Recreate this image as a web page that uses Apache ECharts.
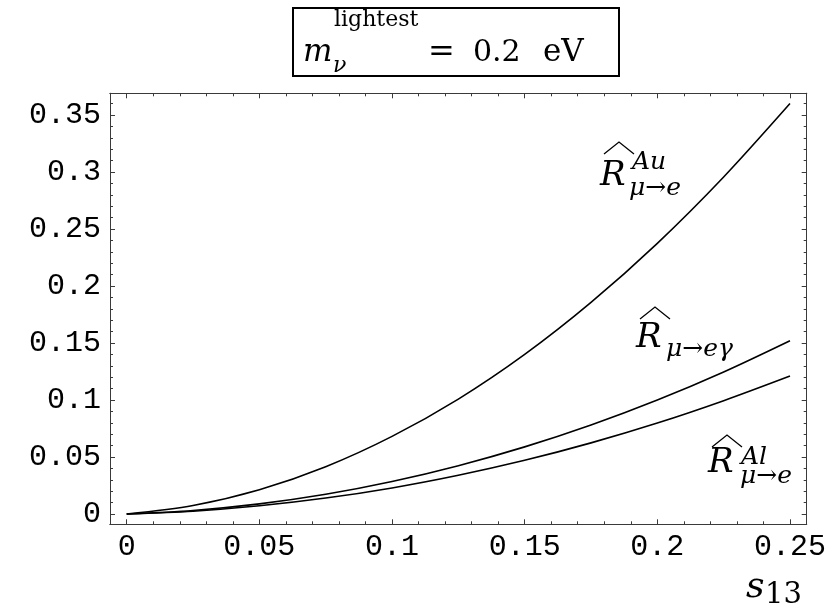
<!DOCTYPE html>
<html>
<head>
<meta charset="utf-8">
<script src="https://cdn.jsdelivr.net/npm/echarts@6/dist/echarts.min.js"></script>
<style>
  html, body { margin: 0; padding: 0; background: #fff; }
  #chart { width: 836px; height: 610px; }
</style>
</head>
<body>
<div id="chart"></div>
<script>
// s13 sample points
const s13 = [0, 0.025, 0.05, 0.075, 0.1, 0.125, 0.15, 0.175, 0.2, 0.225, 0.25];

// Normalised rates
const rAu    = [0, 0.0075, 0.0213, 0.0415, 0.0681, 0.1008, 0.1400, 0.1856, 0.2374, 0.2956, 0.3600];
const rEgam  = [0, 0.0031, 0.0089, 0.0173, 0.0285, 0.0424, 0.0589, 0.0781, 0.1000, 0.1246, 0.1520];
const rAl    = [0, 0.0025, 0.0072, 0.0140, 0.0229, 0.0340, 0.0471, 0.0624, 0.0798, 0.0994, 0.1210];

// Tick values
const xMajor = [0, 0.05, 0.1, 0.15, 0.2, 0.25];
const xMinor = [0.01, 0.02, 0.03, 0.04, 0.06, 0.07, 0.08, 0.09, 0.11, 0.12, 0.13, 0.14,
                0.16, 0.17, 0.18, 0.19, 0.21, 0.22, 0.23, 0.24];
const yMajor = [0, 0.05, 0.1, 0.15, 0.2, 0.25, 0.3, 0.35];
const yMinor = [0.01, 0.02, 0.03, 0.04, 0.06, 0.07, 0.08, 0.09, 0.11, 0.12, 0.13, 0.14,
                0.16, 0.17, 0.18, 0.19, 0.21, 0.22, 0.23, 0.24, 0.26, 0.27, 0.28, 0.29,
                0.31, 0.32, 0.33, 0.34, 0.36];

const X_MIN = -0.0063, X_MAX = 0.2563;
const Y_MIN = -0.0090, Y_MAX = 0.3690;
const FRAME = '#3a3a3a';
const SERIF = '"DejaVu Serif", "Liberation Serif", serif';
const MONO = '"Liberation Mono", "DejaVu Sans Mono", monospace';

function zip(xs, ys) { return xs.map((x, i) => [x, ys[i]]); }

function axis(kind, position, ticks, len, withLabels) {
  return {
    type: 'value', position: position,
    min: kind === 'x' ? X_MIN : Y_MIN,
    max: kind === 'x' ? X_MAX : Y_MAX,
    axisLine: { show: true, onZero: false, lineStyle: { color: FRAME, width: 1 } },
    axisTick: { show: true, inside: true, length: len, customValues: ticks,
                lineStyle: { color: FRAME, width: 1 } },
    axisLabel: withLabels
      ? { show: true, customValues: ticks, margin: kind === 'x' ? 8 : 9,
          fontFamily: MONO, fontSize: 30, color: '#000',
          formatter: v => String(v) }
      : { show: false },
    splitLine: { show: false }
  };
}

// Text placed by its alphabetic baseline
function txt(str, x, base, size, italic) {
  return {
    type: 'text', z: 100,
    style: {
      text: str, x: x, y: base - 0.3 * size,
      font: (italic ? 'italic ' : '') + size + 'px ' + SERIF,
      fill: '#000', align: 'left', verticalAlign: 'middle'
    }
  };
}
function hat(x0, xm, x1, yb, yt) {
  return {
    type: 'polyline', z: 100,
    shape: { points: [[x0, yb], [xm, yt], [x1, yb]] },
    style: { stroke: '#000', lineWidth: 1.3, fill: null }
  };
}

const chart = echarts.init(document.getElementById('chart'), null, { renderer: 'canvas' });

const line = (name, data) => ({
  name: name, type: 'line', data: zip(s13, data), smooth: 0.3,
  showSymbol: false, xAxisIndex: 0, yAxisIndex: 0,
  lineStyle: { color: '#000', width: 1.6 }, animation: false
});

chart.setOption({
  backgroundColor: '#fff',
  animation: false,
  grid: { left: 110, right: 29.3, top: 93.3, bottom: 85.7, containLabel: false },
  xAxis: [
    axis('x', 'bottom', xMajor, 5, true),
    axis('x', 'bottom', xMinor, 3, false),
    axis('x', 'top', xMajor, 5, false),
    axis('x', 'top', xMinor, 3, false)
  ],
  yAxis: [
    axis('y', 'left', yMajor, 5, true),
    axis('y', 'left', yMinor, 3, false),
    axis('y', 'right', yMajor, 5, false),
    axis('y', 'right', yMinor, 3, false)
  ],
  series: [
    line('R Au', rAu),
    line('R e gamma', rEgam),
    line('R Al', rAl)
  ],
  graphic: [
    // boxed heading
    { type: 'rect', z: 90, shape: { x: 293, y: 8, width: 326, height: 68 },
      style: { fill: '#fff', stroke: '#000', lineWidth: 2 } },
    txt('m', 303, 62, 31, true),
    txt('ν', 333, 73, 22, true),
    txt('lightest', 334, 27, 22, false),
    txt('=', 428, 62, 32, false),
    txt('0.2', 473, 62, 30, false),
    txt('eV', 543, 62, 31, false),

    // curve labels
    hat(604, 619, 634, 154, 142),
    txt('R', 600, 186, 34, true),
    txt('Au', 632, 170, 25, true),
    txt('μ→e', 629, 196, 25, true),

    hat(640, 655, 670, 319, 307),
    txt('R', 636, 348, 34, true),
    txt('μ→eγ', 666, 357, 25, true),

    hat(712, 727, 742, 447, 435),
    txt('R', 708, 473, 34, true),
    txt('Al', 741, 465, 25, true),
    txt('μ→e', 740, 484, 25, true),

    // axis name
    txt('s', 746, 598, 36, true),
    txt('13', 765, 604, 29, false)
  ]
});
</script>
</body>
</html>
